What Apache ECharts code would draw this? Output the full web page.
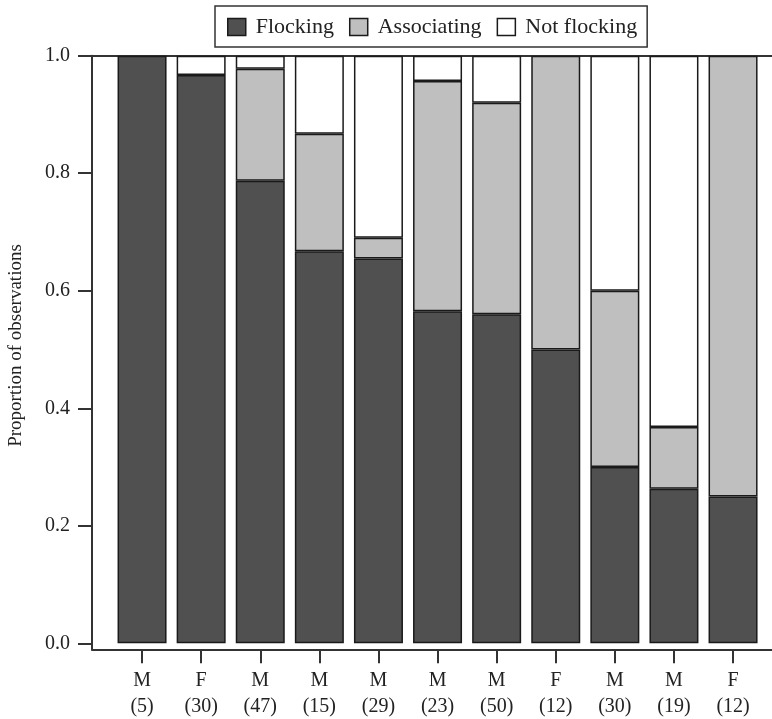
<!DOCTYPE html>
<html>
<head>
<meta charset="utf-8">
<script src="https://cdn.jsdelivr.net/npm/echarts@6/dist/echarts.min.js"></script>
<style>
html,body{margin:0;padding:0;background:#fff;}
#chart{width:772px;height:719px;}
</style>
</head>
<body>
<div id="chart"></div>
<script>
// Data
const sexes = ['M','F','M','M','M','M','M','F','M','M','F'];
const counts = [5,30,47,15,29,23,50,12,30,19,12];
const flocking =    [1.0, 0.967, 0.787, 0.667, 0.655, 0.565, 0.56, 0.5, 0.3, 0.263, 0.25];
const associating = ['-', '-',   0.191, 0.2,   0.035, 0.392, 0.36, 0.5, 0.3, 0.105, 0.75];
const notFlocking = ['-', 0.033, 0.022, 0.133, 0.31,  0.043, 0.08, '-', 0.4, 0.632, '-'];
const yTicks = [0, 0.2, 0.4, 0.6, 0.8, 1.0];
const seriesNames = ['Flocking', 'Associating', 'Not flocking'];

const categories = sexes.map((s, i) => s + '\n(' + counts[i] + ')');
const FONT = 'Liberation Serif';
const INK = '#222';
const AX = '#333';
const colors = ['#505050', '#bfbfbf', '#ffffff'];
const values = [flocking, associating, notFlocking];

const chart = echarts.init(document.getElementById('chart'));
chart.setOption({
  animation: false,
  textStyle: { fontFamily: FONT, color: INK },
  legend: {
    data: seriesNames,
    left: 215, top: 6,
    padding: [10, 10, 9, 12],
    itemGap: 15,
    itemWidth: 18, itemHeight: 17,
    icon: 'rect',
    backgroundColor: '#fff',
    borderColor: AX, borderWidth: 1.5,
    itemStyle: { borderColor: '#1a1a1a', borderWidth: 1.5 },
    textStyle: { fontFamily: FONT, fontSize: 22, color: INK, padding: [0, 0, 0, 5] }
  },
  grid: [
    { left: 92, right: 0, top: 55.7, bottom: 69.7, outerBoundsMode: 'none', containLabel: false },
    { left: 112.5, right: 9.4, top: 55.7, bottom: 75.7, outerBoundsMode: 'none', containLabel: false }
  ],
  xAxis: [
    { type: 'value', gridIndex: 0, position: 'bottom', min: 0, max: 1,
      axisLine: { show: true, onZero: false, lineStyle: { color: AX, width: 2 } },
      axisTick: { show: false }, axisLabel: { show: false }, splitLine: { show: false } },
    { type: 'value', gridIndex: 0, position: 'top', min: 0, max: 1,
      axisLine: { show: true, onZero: false, lineStyle: { color: AX, width: 2 } },
      axisTick: { show: false }, axisLabel: { show: false }, splitLine: { show: false } },
    { type: 'category', gridIndex: 1, position: 'bottom', offset: 6, data: categories,
      axisLine: { show: false, onZero: false },
      axisTick: { show: true, alignWithLabel: true, length: 14, lineStyle: { color: AX, width: 2 } },
      axisLabel: { fontFamily: FONT, fontSize: 20, color: INK, margin: 18, lineHeight: 26, interval: 0 },
      splitLine: { show: false } }
  ],
  yAxis: [
    { type: 'value', gridIndex: 0, min: -0.0102, max: 1,
      name: 'Proportion of observations', nameLocation: 'middle', nameGap: 66, nameRotate: 90,
      nameTextStyle: { fontFamily: FONT, fontSize: 19, color: INK, padding: [0, 0, 0, 14] },
      axisLine: { show: true, onZero: false, lineStyle: { color: AX, width: 2 } },
      axisTick: { show: true, length: 14, customValues: yTicks, lineStyle: { color: AX, width: 2 } },
      axisLabel: { customValues: yTicks, fontFamily: FONT, fontSize: 20, color: INK, margin: 22,
                   formatter: v => Number(v).toFixed(1) },
      splitLine: { show: false } },
    { type: 'value', gridIndex: 1, min: 0, max: 1, show: false }
  ],
  series: seriesNames.map((name, k) => ({
    name: name,
    type: 'bar',
    stack: 'total',
    xAxisIndex: 2,
    yAxisIndex: 1,
    barWidth: 49,
    data: values[k],
    itemStyle: { color: colors[k], borderColor: '#1a1a1a', borderWidth: 1.5 },
    emphasis: { disabled: true }
  }))
});
</script>
</body>
</html>
